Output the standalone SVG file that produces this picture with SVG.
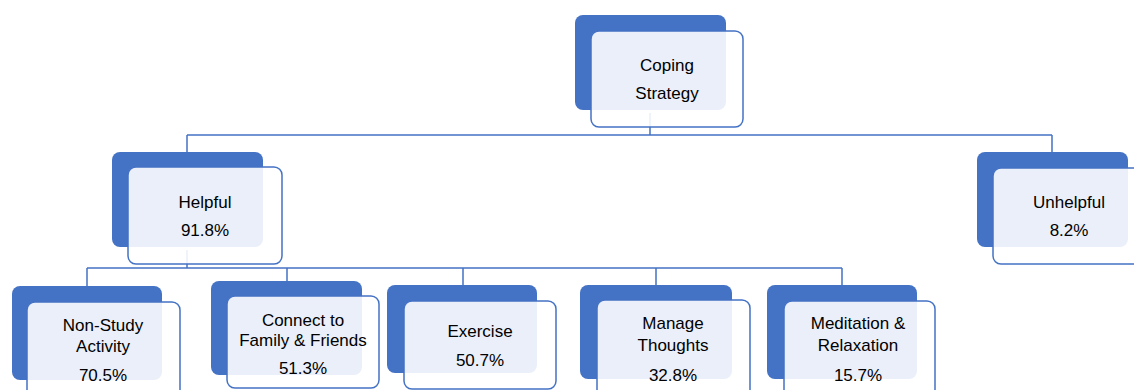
<svg xmlns="http://www.w3.org/2000/svg" width="1134" height="390" viewBox="0 0 1134 390">
<style>
.back{fill:#4472c4;}
.front{fill:#ffffff;fill-opacity:0.89;stroke:#4472c4;stroke-width:1.5;}
.conn{fill:none;stroke:#4472c4;stroke-width:1.5;}
text{font-family:"Liberation Sans",Arial,sans-serif;font-size:17px;fill:#000;text-anchor:middle;}
</style>
<rect width="1134" height="390" fill="#ffffff"/>
<g id="connectors">
<path class="conn" d="M650,113 V135 M187,135 H1052 M187,135 V152 M1052,135 V152"/>
<path class="conn" d="M187,250 V268 M87,268 H842 M87,268 V286 M287,268 V281 M463,268 V285 M656,268 V285 M842,268 V285"/>
</g>
<g id="coping">
<rect class="back" x="575" y="15" width="151" height="95" rx="8"/>
<rect class="front" x="591" y="31" width="152" height="96" rx="8"/>
<text x="667" y="71">Coping</text>
<text x="667" y="99">Strategy</text>
</g>
<g id="helpful">
<rect class="back" x="112" y="152" width="151" height="95" rx="8"/>
<rect class="front" x="128" y="167" width="154" height="97" rx="8"/>
<text x="205" y="208">Helpful</text>
<text x="205" y="236">91.8%</text>
</g>
<g id="unhelpful">
<rect class="back" x="977" y="152" width="151" height="95" rx="8"/>
<rect class="front" x="993" y="168" width="154" height="96" rx="8"/>
<text x="1069" y="208">Unhelpful</text>
<text x="1069" y="236">8.2%</text>
</g>
<g id="nonstudy">
<rect class="back" x="12" y="286" width="150" height="94" rx="8"/>
<rect class="front" x="27" y="302" width="153" height="96" rx="8"/>
<text x="103" y="331">Non-Study</text>
<text x="103" y="352">Activity</text>
<text x="103" y="381">70.5%</text>
</g>
<g id="connect">
<rect class="back" x="211" y="281" width="151" height="94" rx="8"/>
<rect class="front" x="227" y="296" width="152" height="92" rx="8"/>
<text x="303" y="326">Connect to</text>
<text x="303" y="346">Family &amp; Friends</text>
<text x="303" y="374">51.3%</text>
</g>
<g id="exercise">
<rect class="back" x="387" y="285" width="150" height="88" rx="8"/>
<rect class="front" x="404" y="301" width="152" height="88" rx="8"/>
<text x="480" y="337">Exercise</text>
<text x="480" y="366">50.7%</text>
</g>
<g id="manage">
<rect class="back" x="580" y="285" width="152" height="94" rx="8"/>
<rect class="front" x="597" y="300" width="153" height="98" rx="8"/>
<text x="673" y="329">Manage</text>
<text x="673" y="351">Thoughts</text>
<text x="673" y="381">32.8%</text>
</g>
<g id="meditation">
<rect class="back" x="767" y="285" width="150" height="94" rx="8"/>
<rect class="front" x="784" y="301" width="151" height="97" rx="8"/>
<text x="858" y="329">Meditation &amp;</text>
<text x="858" y="351">Relaxation</text>
<text x="858" y="381">15.7%</text>
</g>
</svg>
